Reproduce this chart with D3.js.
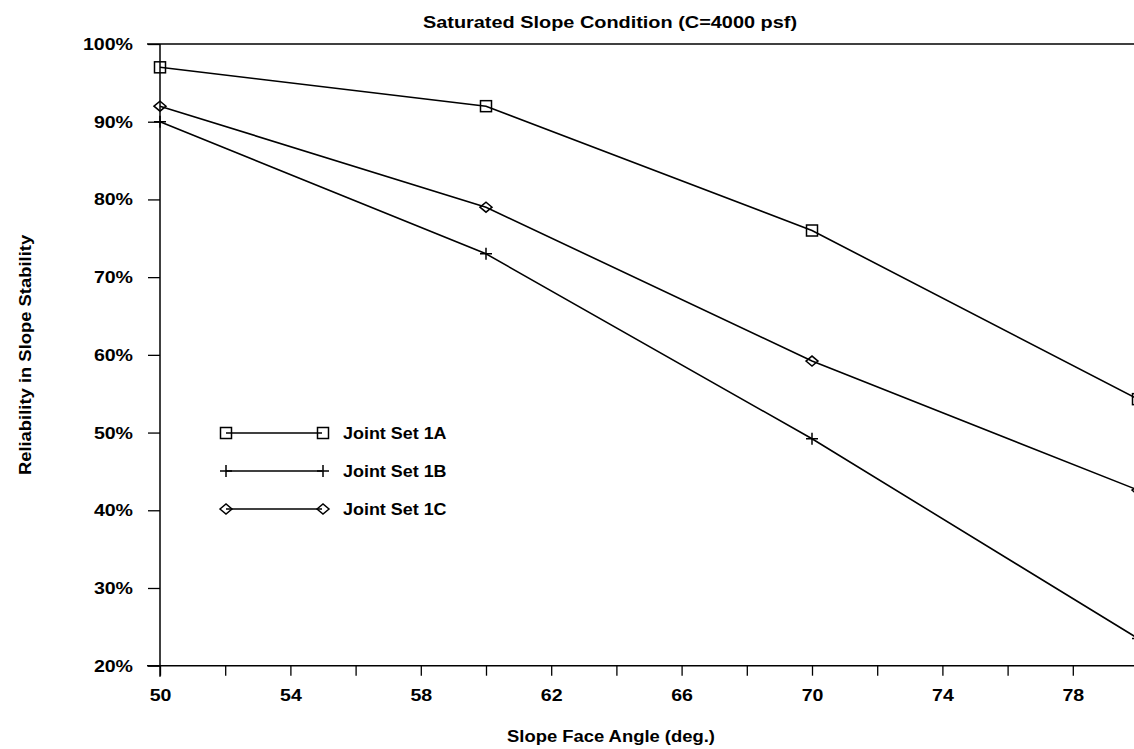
<!DOCTYPE html>
<html>
<head>
<meta charset="utf-8">
<script src="https://cdn.jsdelivr.net/npm/d3@7"></script>
<style>
  body { margin: 0; background: #fff; }
  svg { display: block; font-family: "Liberation Sans", Arial, sans-serif; font-weight: bold; }
</style>
</head>
<body>
<div id="chart"></div>
<script>
// data
var angles = [50, 60, 70, 80];
var set1A = [97, 92, 76, 54.3];
var set1B = [90, 73, 49.2, 23.5];
var set1C = [92, 79, 59.2, 42.6];
var seriesNames = ['Joint Set 1A', 'Joint Set 1B', 'Joint Set 1C'];
var markerTypes = ['square', 'plus', 'diamond'];
var xTicks = [50, 52, 54, 56, 58, 60, 62, 64, 66, 68, 70, 72, 74, 76, 78, 80];
var xLabels = [50, 54, 58, 62, 66, 70, 74, 78];
var yTicks = [20, 30, 40, 50, 60, 70, 80, 90, 100];

var width = 1134, height = 749;

var x = d3.scaleLinear().domain([50, 80]).range([160, 1138]);
var y = d3.scaleLinear().domain([20, 100]).range([665.7, 44]);

var svg = d3.select('#chart').append('svg')
  .attr('width', width)
  .attr('height', height);

// the original typeface is a wide bold sans, so stretch text a bit
function stretch(sel, f) {
  sel.each(function () {
    var w = this.getComputedTextLength();
    if (w > 0) {
      d3.select(this).attr('textLength', w * f).attr('lengthAdjust', 'spacingAndGlyphs');
    }
  });
}

// title
svg.append('text')
  .attr('x', 610).attr('y', 28)
  .attr('text-anchor', 'middle')
  .style('font-size', '17px')
  .text('Saturated Slope Condition (C=4000 psf)')
  .call(stretch, 1.17);

// frame top line
svg.append('line')
  .attr('x1', 147).attr('x2', width)
  .attr('y1', y(100)).attr('y2', y(100))
  .attr('stroke', '#000').attr('stroke-width', 1.5);

// y axis
var yAxis = svg.append('g')
  .attr('transform', 'translate(160,0)')
  .call(d3.axisLeft(y).tickValues(yTicks).tickSize(12).tickPadding(15)
    .tickFormat(function (d) { return d + '%'; }));
yAxis.select('.domain').remove();
yAxis.append('line')
  .attr('x1', 0).attr('x2', 0)
  .attr('y1', y(100)).attr('y2', y(20) + 11)
  .attr('stroke', '#000').attr('stroke-width', 1.5);

// x axis
var xAxis = svg.append('g')
  .attr('transform', 'translate(0,' + y(20) + ')')
  .call(d3.axisBottom(x).tickValues(xTicks).tickSize(10).tickPadding(13)
    .tickFormat(function (d) { return xLabels.indexOf(d) >= 0 ? d : ''; }));
xAxis.select('.domain').remove();
xAxis.append('line')
  .attr('x1', 147).attr('x2', width)
  .attr('y1', 0).attr('y2', 0)
  .attr('stroke', '#000').attr('stroke-width', 1.5);

svg.selectAll('.tick line').attr('stroke', '#000').attr('stroke-width', 1.3);
svg.selectAll('.tick text')
  .attr('fill', '#000')
  .style('font-family', '"Liberation Sans", Arial, sans-serif')
  .style('font-weight', 'bold')
  .style('font-size', '17px')
  .call(stretch, 1.15);

// axis titles
svg.append('text')
  .attr('x', 611).attr('y', 742)
  .attr('text-anchor', 'middle')
  .style('font-size', '16px')
  .text('Slope Face Angle (deg.)')
  .call(stretch, 1.15);

svg.append('text')
  .attr('transform', 'translate(31,355) rotate(-90)')
  .attr('text-anchor', 'middle')
  .style('font-size', '16px')
  .text('Reliability in Slope Stability')
  .call(stretch, 1.15);

function drawMarker(g, type, cx, cy) {
  if (type === 'square') {
    g.append('rect')
      .attr('x', cx - 5.5).attr('y', cy - 5.5)
      .attr('width', 11).attr('height', 11)
      .attr('fill', 'none').attr('stroke', '#000').attr('stroke-width', 1.5);
  } else if (type === 'plus') {
    g.append('path')
      .attr('d', 'M' + (cx - 6) + ',' + cy + 'H' + (cx + 6) + 'M' + cx + ',' + (cy - 6) + 'V' + (cy + 6))
      .attr('stroke', '#000').attr('stroke-width', 1.5);
  } else {
    g.append('path')
      .attr('d', 'M' + (cx - 6) + ',' + cy + 'L' + cx + ',' + (cy - 5) + 'L' + (cx + 6) + ',' + cy + 'L' + cx + ',' + (cy + 5) + 'Z')
      .attr('fill', 'none').attr('stroke', '#000').attr('stroke-width', 1.5);
  }
}

var line = d3.line()
  .x(function (d) { return x(d[0]); })
  .y(function (d) { return y(d[1]); });

var plot = svg.append('g');
[set1A, set1B, set1C].forEach(function (vals, i) {
  var pts = angles.map(function (a, j) { return [a, vals[j]]; });
  plot.append('path')
    .datum(pts)
    .attr('d', line)
    .attr('fill', 'none')
    .attr('stroke', '#000')
    .attr('stroke-width', 1.6);
  pts.forEach(function (p) {
    drawMarker(plot, markerTypes[i], x(p[0]), y(p[1]));
  });
});

// legend
var legend = svg.append('g');
seriesNames.forEach(function (name, i) {
  var ly = 433 + i * 38;
  legend.append('line')
    .attr('x1', 226).attr('x2', 322)
    .attr('y1', ly).attr('y2', ly)
    .attr('stroke', '#000').attr('stroke-width', 1.6);
  drawMarker(legend, markerTypes[i], 226, ly);
  drawMarker(legend, markerTypes[i], 323, ly);
  legend.append('text')
    .attr('x', 343).attr('y', ly + 6)
    .style('font-size', '16px')
    .text(name)
    .call(stretch, 1.12);
});
</script>
</body>
</html>
